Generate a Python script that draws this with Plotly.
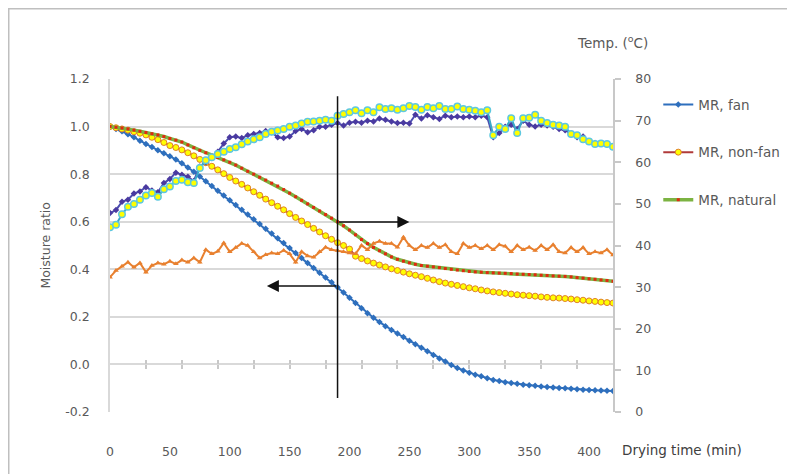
import plotly.graph_objects as go

# ---- data (time in minutes, step 5) ----
time_min = list(range(0, 425, 5))

mr_fan = [1.000, 0.990, 0.980, 0.968, 0.955, 0.940, 0.927, 0.914, 0.900, 0.888,
          0.875, 0.862, 0.846, 0.828, 0.810, 0.790, 0.770, 0.750, 0.730, 0.710,
          0.690, 0.670, 0.650, 0.630, 0.610, 0.590, 0.570, 0.550, 0.530, 0.510,
          0.490, 0.468, 0.447, 0.426, 0.405, 0.385, 0.365, 0.345, 0.325, 0.302,
          0.280, 0.258, 0.236, 0.215, 0.196, 0.178, 0.161, 0.145, 0.130, 0.115,
          0.100, 0.085, 0.070, 0.055, 0.040, 0.025, 0.012, -0.002, -0.015, -0.025,
          -0.035, -0.043, -0.050, -0.058, -0.065, -0.070, -0.075, -0.078, -0.081, -0.085,
          -0.088, -0.090, -0.093, -0.095, -0.097, -0.099, -0.100, -0.102, -0.104, -0.106,
          -0.108, -0.109, -0.110, -0.111, -0.112]

mr_nonfan = [1.000, 0.995, 0.990, 0.985, 0.978, 0.972, 0.965, 0.955, 0.945, 0.933,
             0.920, 0.912, 0.902, 0.890, 0.877, 0.862, 0.848, 0.833, 0.818, 0.802,
             0.786, 0.771, 0.757, 0.742, 0.726, 0.711, 0.695, 0.680, 0.665, 0.650,
             0.634, 0.618, 0.603, 0.588, 0.572, 0.557, 0.541, 0.526, 0.512, 0.500,
             0.485, 0.455, 0.445, 0.435, 0.426, 0.418, 0.410, 0.402, 0.395, 0.388,
             0.381, 0.375, 0.369, 0.362, 0.355, 0.348, 0.342, 0.337, 0.332, 0.327,
             0.322, 0.318, 0.313, 0.309, 0.305, 0.302, 0.299, 0.296, 0.293, 0.291,
             0.289, 0.287, 0.284, 0.282, 0.280, 0.279, 0.277, 0.275, 0.272, 0.270,
             0.267, 0.265, 0.262, 0.260, 0.258]

mr_natural = [1.000, 0.997, 0.994, 0.990, 0.985, 0.980, 0.975, 0.970, 0.965, 0.958,
              0.950, 0.943, 0.935, 0.923, 0.911, 0.900, 0.890, 0.880, 0.870, 0.860,
              0.850, 0.838, 0.825, 0.812, 0.800, 0.787, 0.775, 0.762, 0.750, 0.735,
              0.720, 0.705, 0.690, 0.675, 0.660, 0.645, 0.630, 0.615, 0.600, 0.583,
              0.565, 0.545, 0.525, 0.508, 0.492, 0.478, 0.465, 0.452, 0.442, 0.434,
              0.427, 0.421, 0.416, 0.413, 0.410, 0.407, 0.403, 0.400, 0.397, 0.394,
              0.391, 0.389, 0.388, 0.386, 0.385, 0.384, 0.383, 0.382, 0.380, 0.379,
              0.378, 0.377, 0.375, 0.374, 0.372, 0.371, 0.370, 0.368, 0.365, 0.363,
              0.360, 0.358, 0.355, 0.353, 0.350]

temp_fan = [47.8, 48.5, 50.5, 51.0, 52.5, 53.0, 54.0, 53.2, 52.8, 55.0,
            56.0, 57.5, 57.0, 56.5, 55.5, 59.0, 60.0, 61.0, 62.5, 64.5,
            66.0, 66.2, 65.8, 66.5, 66.8, 67.0, 67.5, 67.2, 66.0, 65.8,
            66.2, 67.5, 68.0, 67.2, 67.7, 68.5, 68.5, 69.0, 69.4, 68.8,
            69.5, 69.7, 69.5, 70.0, 69.8, 70.5, 70.2, 69.8, 69.4, 69.5,
            69.3, 71.4, 70.5, 71.3, 70.8, 70.4, 71.2, 70.8, 71.0, 70.8,
            71.0, 70.8, 71.2, 70.8, 66.0, 67.0, 68.5, 69.0, 68.0, 70.0,
            69.0, 68.6, 69.0, 68.8, 68.5, 68.0, 67.7, 66.8, 66.0, 66.2,
            65.0, 64.6, 64.5, 64.2, 63.7]

temp_nonfan = [44.4, 45.0, 47.5, 49.3, 50.0, 51.0, 52.0, 52.6, 51.7, 53.5,
               54.2, 55.5, 55.8, 55.2, 55.0, 58.6, 60.5, 61.2, 62.0, 62.5,
               63.2, 63.6, 64.3, 65.0, 65.5, 66.0, 66.8, 67.3, 67.6, 68.0,
               68.5, 68.8, 69.3, 69.7, 69.8, 70.0, 70.2, 70.0, 71.2, 71.6,
               72.0, 72.5, 71.8, 72.5, 72.0, 73.2, 72.8, 73.0, 72.6, 73.0,
               73.5, 73.3, 72.6, 73.3, 73.0, 73.5, 72.8, 72.8, 73.4, 72.8,
               72.6, 72.4, 72.0, 72.5, 66.5, 68.5, 68.0, 70.6, 67.0, 70.6,
               70.7, 71.4, 70.0, 69.4, 69.0, 68.8, 68.5, 66.8, 66.5, 65.5,
               65.0, 64.4, 64.5, 64.4, 63.7]

temp_natural = [32.4, 34.0, 35.0, 36.0, 34.8, 35.8, 33.6, 35.2, 35.8, 35.5,
                36.2, 35.6, 36.5, 36.0, 37.0, 36.0, 39.0, 38.0, 38.6, 40.6,
                38.5, 39.5, 40.5, 40.0, 38.5, 37.0, 37.8, 38.2, 38.0, 38.8,
                38.0, 36.0, 38.5, 37.5, 37.2, 38.5, 39.6, 39.0, 38.8, 38.5,
                38.2, 38.0, 40.0, 39.0, 40.5, 41.0, 40.5, 40.5, 39.6, 42.0,
                40.0, 39.0, 40.0, 39.5, 40.5, 39.5, 40.2, 38.5, 38.0, 40.5,
                39.5, 40.0, 39.2, 40.0, 39.0, 40.2, 39.8, 38.5, 40.0, 39.0,
                39.6, 38.8, 40.0, 39.0, 40.2, 38.5, 38.2, 39.5, 38.5, 39.5,
                38.0, 38.5, 38.2, 39.0, 37.7]

x_tick_vals = [0, 50, 100, 150, 200, 250, 300, 350, 400]
x_minor_ticks = [30, 60, 90, 120, 150, 180, 210, 240, 270, 300, 330, 360, 390]
y_left_ticks = [-0.2, 0.0, 0.2, 0.4, 0.6, 0.8, 1.0, 1.2]
y_left_labels = ["-0.2", "0.0", "0.2", "0.4", "0.6", "0.8", "1.0", "1.2"]
y_right_ticks = [0, 10, 20, 30, 40, 50, 60, 70, 80]

FONT = "DejaVu Sans"
GRAY = "#595959"
TICKGRAY = "#c8c8c8"

fig = go.Figure()

# MR series (primary axis)
fig.add_trace(go.Scatter(
    x=time_min, y=mr_fan, name="MR, fan", mode="lines+markers",
    line=dict(color="#2e6fbd", width=2),
    marker=dict(symbol="diamond", size=5, color="#2e6fbd"),
    legendgroup="a"))
fig.add_trace(go.Scatter(
    x=time_min, y=mr_nonfan, name="MR, non-fan", mode="lines+markers",
    line=dict(color="#b03a3a", width=2),
    marker=dict(symbol="circle", size=6, color="#ffff00",
                line=dict(color="#e0802a", width=1)),
    legendgroup="b"))
fig.add_trace(go.Scatter(
    x=time_min, y=mr_natural, name="MR, natural", mode="lines+markers",
    line=dict(color="#7cb342", width=3.5),
    marker=dict(symbol="square", size=3, color="#e02a10"),
    legendgroup="c"))

# Temperature series (secondary axis)
fig.add_trace(go.Scatter(
    x=time_min, y=temp_natural, name="Temp, natural", mode="lines+markers",
    line=dict(color="#e8802f", width=2),
    marker=dict(symbol="triangle-up", size=5, color="#e8802f"),
    yaxis="y2", showlegend=False))
fig.add_trace(go.Scatter(
    x=time_min, y=temp_fan, name="Temp, fan", mode="lines+markers",
    line=dict(color="#4b4db0", width=2),
    marker=dict(symbol="diamond", size=5, color="#4a3aa0"),
    yaxis="y2", showlegend=False))
fig.add_trace(go.Scatter(
    x=time_min, y=temp_nonfan, name="Temp, non-fan", mode="lines+markers",
    line=dict(color="#3aa9c9", width=2),
    marker=dict(symbol="circle", size=6.5, color="#ffff00",
                line=dict(color="#5ec8e0", width=1.5)),
    yaxis="y2", showlegend=False))

# empty helper traces so the tick-only axes at y = 0 get drawn
fig.add_trace(go.Scatter(x=[], y=[], xaxis="x2", showlegend=False, hoverinfo="skip"))
fig.add_trace(go.Scatter(x=[], y=[], xaxis="x3", showlegend=False, hoverinfo="skip"))

fig.update_layout(
    width=795, height=474,
    margin=dict(l=102, r=190, t=71, b=70),
    paper_bgcolor="white", plot_bgcolor="white",
    font=dict(family=FONT, size=12.5, color=GRAY),
    xaxis=dict(range=[0, 420], tickvals=x_tick_vals, showgrid=False,
               zeroline=False, showline=False, ticks="",
               ticklabelstandoff=30, tickfont=dict(size=12.5, color=GRAY)),
    xaxis2=dict(range=[0, 420], overlaying="x", anchor="free",
                position=0.2 / 1.4, tickvals=x_minor_ticks, showticklabels=False,
                showgrid=False, zeroline=False, showline=False,
                ticks="outside", ticklen=4, tickcolor=TICKGRAY, tickwidth=1.5),
    xaxis3=dict(range=[0, 420], overlaying="x", anchor="free",
                position=0.2 / 1.4, tickvals=x_minor_ticks, showticklabels=False,
                showgrid=False, zeroline=False, showline=False,
                ticks="inside", ticklen=4, tickcolor=TICKGRAY, tickwidth=1.5),
    yaxis=dict(range=[-0.2, 1.2], tickvals=y_left_ticks, ticktext=y_left_labels,
               showgrid=True, gridcolor="#d9d9d9", gridwidth=1.5,
               zeroline=False, showline=True, linecolor="#d9d9d9", linewidth=1.5,
               ticks="", ticklabelstandoff=16),
    yaxis2=dict(range=[0, 80], tickvals=y_right_ticks, overlaying="y", side="right",
                showgrid=False, zeroline=False, showline=True,
                linecolor=TICKGRAY, linewidth=1.5,
                ticks="outside", ticklen=6, tickcolor=TICKGRAY, tickwidth=1.5,
                ticklabelstandoff=12),
    legend=dict(x=1.09, y=0.969, xanchor="left", yanchor="top",
                font=dict(size=13.5, color=GRAY), tracegroupgap=27,
                bgcolor="rgba(0,0,0,0)", itemwidth=30),
    showlegend=True,
)

# Axis titles
fig.add_annotation(text="Moisture ratio", xref="paper", yref="paper",
                   x=-0.129, y=0.5, xanchor="center", yanchor="middle",
                   textangle=-90, showarrow=False,
                   font=dict(size=12.5, color=GRAY))
fig.add_annotation(text="Temp. (<sup>o</sup>C)", xref="paper", yref="paper",
                   x=0.925, y=1.111, xanchor="left", yanchor="middle", showarrow=False,
                   font=dict(size=13.5, color=GRAY))
fig.add_annotation(text="Drying time (min)", xref="paper", yref="paper",
                   x=1.014, y=-0.114, xanchor="left", yanchor="middle", showarrow=False,
                   font=dict(size=13.5, color="#404040"))

# Arrows and vertical divider
fig.add_shape(type="line", xref="x", yref="y", x0=190, x1=190, y0=1.128, y1=-0.141,
              line=dict(color="#111111", width=1.5))
fig.add_annotation(x=250, y=0.599, ax=190, ay=0.599, xref="x", yref="y",
                   axref="x", ayref="y", showarrow=True, arrowhead=2,
                   arrowsize=1.6, arrowwidth=1.5, arrowcolor="#111111", text="")
fig.add_annotation(x=131, y=0.33, ax=190, ay=0.33, xref="x", yref="y",
                   axref="x", ayref="y", showarrow=True, arrowhead=2,
                   arrowsize=1.6, arrowwidth=1.5, arrowcolor="#111111", text="")

# outer chart border (top and left edges visible)
fig.add_shape(type="rect", xref="paper", yref="paper",
              x0=(0.75 - 102) / 503, x1=1.6, y0=-0.5, y1=1 + (71 - 0.75) / 333,
              line=dict(color="#bfbfbf", width=1.5), layer="below")

fig.write_html("out.html")
